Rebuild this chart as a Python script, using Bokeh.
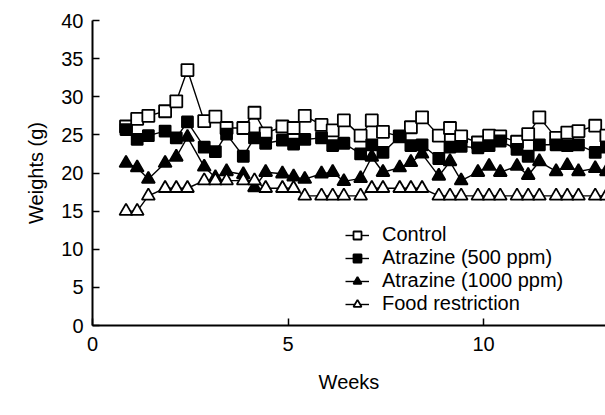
from bokeh.plotting import figure
from bokeh.models import Range1d, Legend, LegendItem, FixedTicker
from bokeh.embed import file_html
from bokeh.resources import INLINE

days = [6, 8, 10, 13, 15, 17, 20, 22, 24, 27, 29, 31, 34, 36, 38, 41, 43, 45, 48,
        50, 52, 55, 57, 59, 62, 64, 66, 69, 71, 73, 76, 78, 80, 83, 85, 87, 90, 92]
weeks = [d / 7 for d in days]

control = [26.1, 27.1, 27.5, 28.1, 29.4, 33.5, 26.8, 27.4, 25.9, 25.9, 27.9, 25.2, 26.1,
           25.9, 27.5, 26.3, 25.6, 26.9, 24.9, 26.9, 25.4, 24.8, 26.0, 27.3, 24.9, 25.9,
           24.8, 24.0, 24.9, 24.8, 24.1, 25.1, 27.3, 24.6, 25.3, 25.5, 26.2, 24.9]
atr500 = [25.7, 24.4, 24.9, 25.5, 24.6, 26.7, 23.4, 22.8, 25.1, 22.2, 24.6, 23.9, 24.3,
          23.8, 24.4, 24.6, 23.6, 23.9, 22.5, 23.7, 22.7, 24.8, 23.6, 23.7, 21.9, 23.4,
          23.5, 23.3, 23.6, 24.2, 23.1, 22.2, 23.7, 23.7, 23.6, 23.7, 22.7, 23.4]
atr1000 = [21.3, 20.7, 19.2, 21.3, 22.1, 24.7, 20.8, 19.4, 20.2, 19.8, 18.1, 20.1, 19.9,
           19.5, 19.2, 19.9, 20.1, 18.9, 19.3, 22.1, 20.1, 20.7, 21.4, 22.5, 19.6, 21.5,
           19.0, 20.1, 20.9, 20.1, 20.9, 19.7, 21.5, 20.2, 21.0, 20.2, 20.6, 20.2]
food = [15, 15, 17, 18, 18, 18, 19, 19, 19, 19, 19, 18, 18, 18, 17, 17, 17, 17, 17,
        18, 18, 18, 18, 18, 17, 17, 17, 17, 17, 17, 17, 17, 17, 17, 17, 17, 17, 17]

labels = ["Control", "Atrazine (500 ppm)", "Atrazine (1000 ppm)", "Food restriction"]
x_ticks = [0, 5, 10]
y_ticks = [0, 5, 10, 15, 20, 25, 30, 35, 40]

FONT = "Liberation Sans"

p = figure(width=605, height=415, output_backend="svg", toolbar_location=None,
           x_range=Range1d(0, 13.12), y_range=Range1d(0, 40),
           min_border_left=92, min_border_right=0, min_border_top=20, min_border_bottom=90)
p.outline_line_color = None
p.grid.visible = False
p.background_fill_color = "white"

for ax in (p.xaxis[0], p.yaxis[0]):
    ax.axis_line_color = "black"
    ax.axis_line_width = 2
    ax.major_tick_line_color = "black"
    ax.major_tick_line_width = 1.5
    ax.major_tick_in = 7
    ax.major_tick_out = 0
    ax.minor_tick_line_color = None
    ax.major_label_text_font = FONT
    ax.major_label_text_font_size = "20px"
    ax.major_label_text_color = "black"
    ax.axis_label_text_font = FONT
    ax.axis_label_text_font_size = "20px"
    ax.axis_label_text_font_style = "normal"
    ax.axis_label_text_color = "black"

p.xaxis.ticker = FixedTicker(ticks=x_ticks)
p.yaxis.ticker = FixedTicker(ticks=y_ticks)
p.xaxis.axis_label = "Weeks"
p.yaxis.axis_label = "Weights (g)"
p.xaxis.major_label_standoff = 11
p.yaxis.major_label_standoff = 9
p.xaxis.axis_label_standoff = 17
p.yaxis.axis_label_standoff = 11

series = [
    (control, "square", "white", 12),
    (atr500, "square", "black", 11),
    (atr1000, "triangle", "black", 13),
    (food, "triangle", "white", 13),
]

items = []
for (vals, marker, fill, size), lab in zip(series, labels):
    ln = p.line(weeks, vals, line_color="black", line_width=1.4)
    sc = p.scatter(weeks, vals, marker=marker, size=size, fill_color=fill,
                   line_color="black", line_width=1.8)
    items.append(LegendItem(label=lab, renderers=[ln, sc]))

legend = Legend(items=items, location=(253, 10), orientation="vertical")
legend.background_fill_alpha = 0
legend.border_line_color = None
legend.padding = 0
legend.margin = 0
legend.spacing = 0
legend.glyph_width = 24
legend.glyph_height = 20
legend.label_height = 20
legend.label_standoff = 13
legend.label_text_font = FONT
legend.label_text_font_size = "20px"
legend.label_text_color = "black"
p.add_layout(legend, "center")

open("out.html", "w").write(file_html(p, INLINE))
